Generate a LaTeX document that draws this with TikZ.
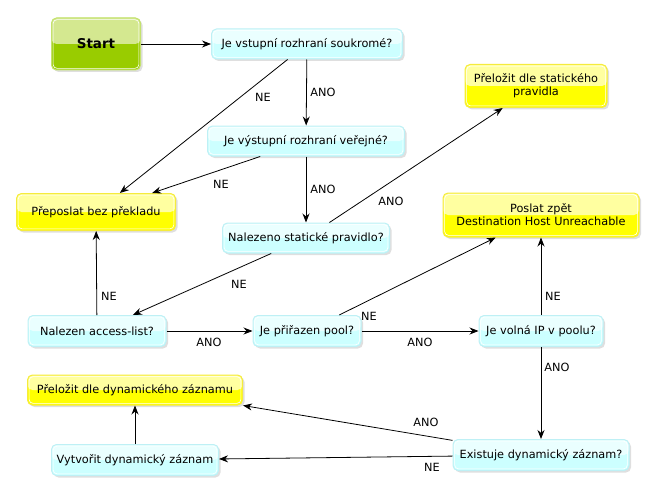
\documentclass[tikz,border=0pt]{standalone}
\usepackage{fontspec}
\setmainfont{DejaVu Sans}
\usepackage{xcolor}
\usepackage{tikz}
\definecolor{cyanbase}{RGB}{204,255,255}
\definecolor{cyantop}{RGB}{234,255,255}
\definecolor{cyanedge}{RGB}{190,240,245}
\definecolor{yellowbase}{RGB}{255,255,0}
\definecolor{yellowtop}{RGB}{255,255,160}
\definecolor{yellowedge}{RGB}{245,235,60}
\definecolor{greenbase}{RGB}{153,204,0}
\definecolor{greentop}{RGB}{212,232,144}
\definecolor{greenedge}{RGB}{196,226,110}
\usetikzlibrary{shadows,arrows.meta}

\tikzset{
    box/.style={rounded corners=5pt, line width=1pt, inner sep=2pt,
        font=\fontsize{11.3}{13}\selectfont, align=center,
        drop shadow={opacity=0.25, shadow xshift=2pt, shadow yshift=-2pt}},
    gloss/.style={path picture={
        \fill[#1] (path picture bounding box.north west) rectangle (path picture bounding box.east);
        \draw[white, line width=0.6pt, rounded corners=4pt]
            ([shift={(1.6pt,1.6pt)}]path picture bounding box.south west) rectangle
            ([shift={(-1.6pt,-1.6pt)}]path picture bounding box.north east);}},
    question/.style={box, draw=cyanedge, fill=cyanbase, gloss=cyantop},
    result/.style={box, draw=yellowedge, fill=yellowbase, gloss=yellowtop},
    startbox/.style={box, draw=greenedge, fill=greenbase, font=\fontsize{13.5}{15}\bfseries, gloss=greentop},
    arr/.style={-{Stealth[length=9pt,width=7pt]}, line width=0.8pt},
    lbl/.style={font=\fontsize{11.3}{13}\selectfont, inner sep=0pt}
}

\begin{document}
\begin{tikzpicture}[x=1pt, y=-1pt]
    \useasboundingbox (0,0) rectangle (655,492);

    % boxes
    \node[startbox, minimum width=89, minimum height=52] (start) at (96,44) {Start};
    \node[question, minimum width=191, minimum height=30] (private) at (307,44) {Je vstupní rozhraní soukromé?};
    \node[question, minimum width=197, minimum height=30] (public) at (306,141) {Je výstupní rozhraní veřejné?};
    \node[question, minimum width=167, minimum height=30] (static) at (306,238) {Nalezeno statické pravidlo?};
    \node[result, minimum width=159, minimum height=37] (forward) at (96,212) {Přeposlat bez překladu};
    \node[result, minimum width=142, minimum height=43] (bystatic) at (536,86) {Přeložit dle statického\\pravidla};
    \node[result, minimum width=196, minimum height=44] (unreach) at (541,215) {Poslat zpět\\Destination Host Unreachable};
    \node[question, minimum width=138, minimum height=31] (acl) at (97,331) {Nalezen access-list?};
    \node[question, minimum width=108, minimum height=31] (pool) at (307,331) {Je přiřazen pool?};
    \node[question, minimum width=124, minimum height=31] (freeip) at (541,331) {Je volná IP v poolu?};
    \node[result, minimum width=215, minimum height=30] (bydyn) at (135,390) {Přeložit dle dynamického záznamu};
    \node[question, minimum width=167, minimum height=31] (create) at (135,460) {Vytvořit dynamický záznam};
    \node[question, minimum width=176, minimum height=31] (exist) at (541,455) {Existuje dynamický záznam?};

    % connectors
    \draw[arr] (start) -- (private);
    \draw[arr] (private) -- (forward);
    \draw[arr] (private) -- (public);
    \draw[arr] (public) -- (forward);
    \draw[arr] (public) -- (static);
    \draw[arr] (static) -- (bystatic);
    \draw[arr] (static) -- (acl);
    \draw[arr] (acl) -- (forward);
    \draw[arr] (acl) -- (pool);
    \draw[arr] (pool) -- (unreach);
    \draw[arr] (pool) -- (freeip);
    \draw[arr] (freeip) -- (unreach);
    \draw[arr] (freeip) -- (exist);
    \draw[arr] (exist) -- (bydyn.south east);
    \draw[arr] (exist) -- (create);
    \draw[arr] (create) -- (bydyn);

    % labels
    \node[lbl] (l1) at (263,97) {NE};
    \node[lbl] (l2) at (323,92) {ANO};
    \node[lbl] (l3) at (221,184) {NE};
    \node[lbl] (l4) at (323,189) {ANO};
    \node[lbl] (l5) at (391,201) {ANO};
    \node[lbl] (l6) at (239,284) {NE};
    \node[lbl] (l7) at (109,296) {NE};
    \node[lbl] (l8) at (209,342) {ANO};
    \node[lbl] (l9) at (369,316) {NE};
    \node[lbl] (l10) at (420,342) {ANO};
    \node[lbl] (l11) at (553,296) {NE};
    \node[lbl] (l12) at (557,367) {ANO};
    \node[lbl] (l13) at (426,422) {ANO};
    \node[lbl] (l14) at (432,467) {NE};
\end{tikzpicture}
\end{document}
